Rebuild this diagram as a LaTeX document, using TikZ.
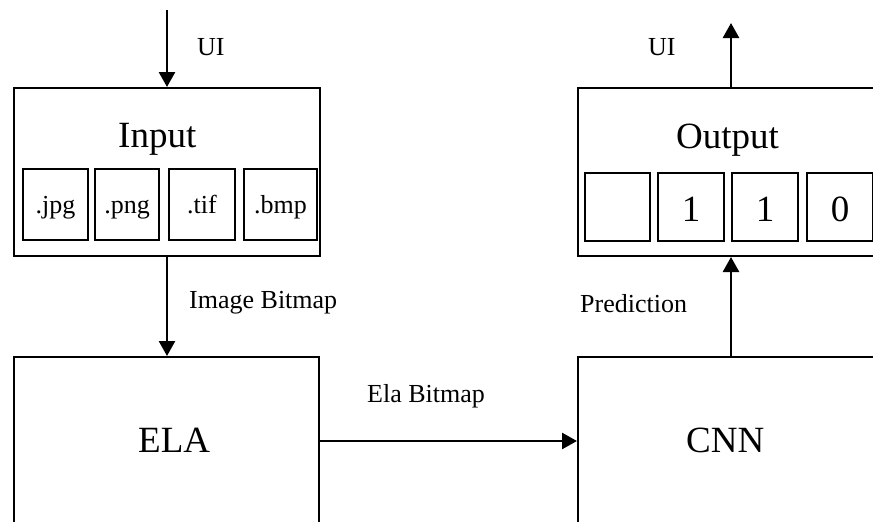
\documentclass[tikz,border=0pt]{standalone}
\usepackage{fontspec}
\setmainfont{Liberation Serif}
\usetikzlibrary{arrows.meta}
\tikzset{
  frame/.style={draw, line width=2pt, inner sep=0pt, anchor=north west},
  cell/.style={draw, line width=2pt, inner sep=0pt, anchor=north west},
  title/.style={font=\fontsize{37}{40}\selectfont, inner sep=0pt, anchor=base west},
  small/.style={font=\fontsize{26}{30}\selectfont, inner sep=0pt, anchor=base west},
  flow/.style={line width=2.6pt, -{Triangle[length=15pt,width=16pt]}},
  ext/.style={font=\fontsize{26}{30}\selectfont, text height=25pt, text depth=8pt},
  digit/.style={font=\fontsize{37}{40}\selectfont, text height=34pt, text depth=6pt}
}
\begin{document}
\begin{tikzpicture}[x=1pt,y=-1pt]
\useasboundingbox (0,0) rectangle (873,522);
\clip (0,0) rectangle (873,522);
\fill[white] (0,0) rectangle (873,522);

% main blocks
\node[frame, minimum width=306pt, minimum height=168pt] (input) at (13,87) {};
\node[frame, minimum width=310pt, minimum height=168pt] (output) at (577,87) {};
\node[frame, minimum width=305pt, minimum height=180pt] (ela) at (13,356) {};
\node[frame, minimum width=310pt, minimum height=180pt] (cnn) at (577,356) {};

% block titles
\node[title] (inputT) at (118,147) {Input};
\node[title] (outputT) at (676,148) {Output};
\node[title] (elaT) at (138,452) {ELA};
\node[title] (cnnT) at (686,452) {CNN};

% file formats
\node[cell, ext, minimum width=65pt, minimum height=71pt] (jpg) at (22,168) {.jpg};
\node[cell, ext, minimum width=64pt, minimum height=71pt] (png) at (94,168) {.png};
\node[cell, ext, minimum width=66pt, minimum height=71pt] (tif) at (168,168) {.tif};
\node[cell, ext, minimum width=73pt, minimum height=71pt] (bmp) at (243,168) {.bmp};

% prediction digits
\node[cell, digit, minimum width=65pt, minimum height=68pt] (d0) at (584,172) {};
\node[cell, digit, minimum width=66pt, minimum height=68pt] (d1) at (657,172) {1};
\node[cell, digit, minimum width=66pt, minimum height=68pt] (d2) at (731,172) {1};
\node[cell, digit, minimum width=66pt, minimum height=68pt] (d3) at (806,172) {0};

% connectors
\coordinate (src) at (167,10);
\coordinate (dst) at (731,23);
\draw[flow] (src) -- (src |- input.north);
\draw[flow] (input.south -| src) -- (src |- ela.north);
\draw[flow] (ela.east |- 0,441) -- (cnn.west |- 0,441);
\draw[flow] (dst |- cnn.north) -- (dst |- output.south);
\draw[flow] (dst |- output.north) -- (dst);

% connector labels
\node[small] (ui1) at (197,55) {UI};
\node[small] (ui2) at (648,55) {UI};
\node[small] (bmpL) at (189,308) {Image Bitmap};
\node[small] (elaL) at (367,402) {Ela Bitmap};
\node[small] (predL) at (580,312) {Prediction};
\end{tikzpicture}
\end{document}
